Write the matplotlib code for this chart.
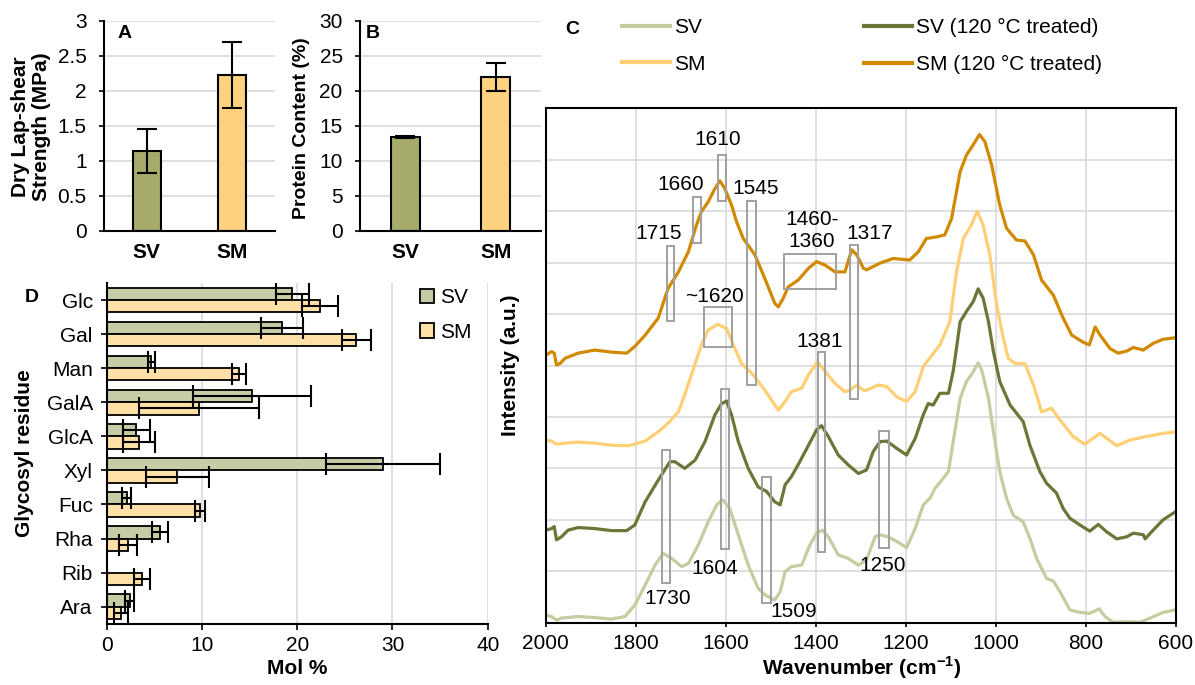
import numpy as np
import matplotlib
matplotlib.use('Agg')
import matplotlib.pyplot as plt
from matplotlib.patches import Rectangle
from matplotlib.lines import Line2D

plt.rcParams['font.family'] = ['Liberation Sans', 'DejaVu Sans']
plt.rcParams['mathtext.fontset'] = 'custom'
plt.rcParams['mathtext.rm'] = 'Liberation Sans'
plt.rcParams['mathtext.bf'] = 'Liberation Sans:bold'

# ---- panel A / B data
samples = ['SV', 'SM']
lap_shear = [1.14, 2.22]
lap_shear_err = [0.32, 0.47]
protein = [13.4, 22.0]
protein_err = [0.2, 2.0]

# ---- panel D data (mol %)
residues = ['Glc', 'Gal', 'Man', 'GalA', 'GlcA', 'Xyl', 'Fuc', 'Rha', 'Rib', 'Ara']
sv_mol = [19.5, 18.4, 4.7, 15.3, 3.1, 29.0, 2.1, 5.6, np.nan, 2.4]
sv_mol_err = [1.7, 2.2, 0.4, 6.2, 1.4, 6.0, 0.5, 0.85, np.nan, 0.45]
sm_mol = [22.4, 26.2, 13.9, 9.7, 3.4, 7.4, 9.8, 2.2, 3.7, 1.5]
sm_mol_err = [1.9, 1.5, 0.7, 6.3, 1.7, 3.3, 0.5, 0.95, 0.8, 0.75]

# ---- panel C data (FTIR, offset intensities)
sv_wn = [2000, 1987, 1976, 1965, 1928, 1891, 1854, 1824, 1802, 1779, 1757, 1739, 1720,
         1698, 1683, 1661, 1639, 1620, 1607, 1591, 1572, 1550, 1528, 1513, 1491, 1479,
         1468, 1454, 1431, 1413, 1398, 1385, 1372, 1350, 1328, 1305, 1287, 1268, 1257,
         1239, 1220, 1198, 1179, 1161, 1146, 1135, 1120, 1105, 1091, 1079, 1065, 1054,
         1039, 1031, 1016, 1005, 991, 976, 961, 939, 924, 909, 887, 872, 857, 835, 813,
         791, 770, 757, 739, 709, 679, 657, 628, 600]
sv_int = [0.15, 0.12, 0.05, 0.09, 0.12, 0.10, 0.07, 0.12, 0.34, 0.73, 1.12, 1.35, 1.25,
          1.09, 1.15, 1.51, 1.96, 2.29, 2.39, 2.22, 1.71, 1.12, 0.67, 0.54, 0.44, 0.60,
          0.99, 1.09, 1.12, 1.51, 1.74, 1.80, 1.67, 1.32, 1.25, 1.12, 1.22, 1.67, 1.71,
          1.67, 1.58, 1.46, 1.83, 2.29, 2.42, 2.61, 2.77, 2.94, 3.71, 4.36, 4.69, 4.82,
          5.05, 4.91, 4.36, 3.71, 2.94, 2.42, 2.09, 1.96, 1.64, 1.25, 0.86, 0.81, 0.60,
          0.25, 0.20, 0.18, 0.27, 0.12, 0.01, 0.02, 0.01, 0.09, 0.20, 0.25]

sv120_wn = [2000, 1987, 1981, 1976, 1965, 1950, 1928, 1891, 1854, 1820, 1802, 1779, 1750,
            1724, 1713, 1691, 1668, 1646, 1624, 1609, 1598, 1587, 1572, 1550, 1528, 1509,
            1491, 1479, 1468, 1454, 1439, 1416, 1398, 1387, 1372, 1350, 1328, 1305, 1287,
            1272, 1257, 1242, 1220, 1198, 1179, 1161, 1150, 1139, 1124, 1105, 1094, 1079,
            1065, 1050, 1039, 1028, 1016, 1005, 991, 968, 939, 924, 902, 887, 865, 850,
            835, 813, 791, 772, 754, 731, 709, 694, 672, 668, 650, 628, 600]
sv120_int = [1.80, 1.83, 1.87, 1.61, 1.67, 1.80, 1.85, 1.83, 1.79, 1.79, 1.90, 2.35, 2.77,
             3.13, 3.13, 3.00, 3.16, 3.52, 4.04, 4.26, 4.31, 4.04, 3.52, 3.00, 2.64, 2.55,
             2.35, 2.29, 2.68, 2.84, 3.07, 3.45, 3.75, 3.83, 3.62, 3.26, 3.07, 2.90, 2.97,
             3.33, 3.52, 3.53, 3.39, 3.26, 3.58, 4.04, 4.26, 4.23, 4.46, 4.46, 4.91, 5.85,
             6.05, 6.24, 6.49, 6.31, 5.85, 5.27, 4.69, 4.23, 3.91, 3.45, 2.94, 2.71, 2.52,
             2.22, 2.03, 1.90, 1.78, 1.91, 1.77, 1.63, 1.67, 1.74, 1.71, 1.63, 1.80, 2.00,
             2.16]

sm_wn = [2000, 1987, 1976, 1957, 1928, 1891, 1854, 1816, 1779, 1750, 1728, 1705, 1691,
         1676, 1654, 1639, 1618, 1598, 1583, 1565, 1542, 1513, 1483, 1468, 1454, 1431,
         1416, 1396, 1379, 1357, 1335, 1324, 1309, 1294, 1287, 1261, 1242, 1220, 1198,
         1179, 1161, 1124, 1102, 1087, 1072, 1054, 1041, 1028, 1013, 998, 983, 972, 957,
         935, 916, 898, 876, 857, 828, 802, 768, 731, 702, 665, 628, 600]
sm_int = [3.55, 3.53, 3.47, 3.49, 3.51, 3.49, 3.45, 3.44, 3.53, 3.71, 3.88, 4.10, 4.43,
          4.82, 5.40, 5.69, 5.80, 5.72, 5.40, 5.04, 4.85, 4.52, 4.13, 4.30, 4.49, 4.56,
          4.82, 5.07, 4.88, 4.65, 4.49, 4.52, 4.62, 4.52, 4.52, 4.62, 4.59, 4.39, 4.30,
          4.49, 4.98, 5.40, 5.85, 6.82, 7.47, 7.73, 8.00, 7.73, 7.15, 6.18, 5.53, 5.14,
          5.04, 5.04, 4.62, 4.10, 4.17, 3.94, 3.62, 3.47, 3.68, 3.44, 3.55, 3.62, 3.68,
          3.71]

sm120_wn = [2000, 1987, 1981, 1976, 1968, 1957, 1928, 1891, 1854, 1820, 1802, 1779, 1750,
            1728, 1705, 1683, 1665, 1654, 1639, 1624, 1613, 1602, 1587, 1576, 1561, 1535,
            1513, 1491, 1483, 1472, 1461, 1439, 1416, 1398, 1379, 1357, 1335, 1320, 1309,
            1294, 1287, 1257, 1228, 1191, 1172, 1154, 1131, 1113, 1098, 1079, 1065, 1050,
            1036, 1024, 1009, 991, 976, 954, 935, 916, 898, 872, 850, 831, 805, 792, 779,
            768, 746, 728, 709, 694, 672, 650, 628, 600]
sm120_int = [5.20, 5.27, 5.24, 5.01, 5.04, 5.14, 5.24, 5.30, 5.26, 5.24, 5.37, 5.59, 5.92,
             6.50, 6.82, 7.21, 7.73, 7.99, 8.18, 8.44, 8.59, 8.44, 8.12, 7.80, 7.47, 7.15,
             6.69, 6.21, 6.14, 6.31, 6.53, 6.66, 6.89, 7.02, 6.95, 6.82, 6.82, 7.25, 7.15,
             6.89, 6.86, 6.99, 7.08, 7.05, 7.21, 7.47, 7.50, 7.54, 7.86, 8.77, 9.09, 9.29,
             9.49, 9.35, 8.90, 8.12, 7.67, 7.44, 7.42, 7.15, 6.66, 6.37, 5.92, 5.59, 5.45,
             5.40, 5.75, 5.59, 5.33, 5.24, 5.28, 5.35, 5.30, 5.43, 5.51, 5.54]

# marked bands: (wavenumber high, wavenumber low, intensity low, intensity high)
bands = [(1731, 1714, 5.86, 7.32), (1673, 1656, 7.39, 8.28), (1618, 1600, 8.20, 9.09),
         (1552, 1533, 4.62, 8.20), (1470, 1354, 6.49, 7.17), (1324, 1305, 4.35, 7.34),
         (1648, 1585, 5.35, 6.14), (1396, 1379, 1.38, 5.27), (1611, 1592, 1.43, 4.54),
         (1742, 1723, 0.78, 3.36), (1519, 1500, 0.38, 2.83), (1259, 1237, 1.45, 3.73)]
band_labels = [('1715', 1750, 7.57), ('1660', 1699, 8.52), ('1610', 1618, 9.40),
               ('1545', 1533, 8.44), ('1460-\n1360', 1409, 7.63), ('1317', 1280, 7.57),
               ('~1620', 1624, 6.35), ('1381', 1392, 5.46), ('1604', 1625, 1.06),
               ('1730', 1729, 0.47), ('1509', 1448, 0.21), ('1250', 1252, 1.12)]

W, H = 1195, 685
fig = plt.figure(figsize=(W / 100, H / 100), dpi=100)

def rect(x0, y0, x1, y1):
    return [x0 / W, 1 - y1 / H, (x1 - x0) / W, (y1 - y0) / H]

grid_c = '#D9D9D9'
bar_sv, bar_sm = '#A6AA6A', '#FFD27F'

def style_bar_axes(ax):
    for s in ['top', 'right']:
        ax.spines[s].set_visible(False)
    for s in ['left', 'bottom']:
        ax.spines[s].set_linewidth(1.5)
    ax.set_axisbelow(True)

# ---- A
axA = fig.add_axes(rect(104, 20.7, 275, 230.7))
x = np.arange(len(samples))
axA.bar(x, lap_shear, width=0.33, color=[bar_sv, bar_sm], edgecolor='black', linewidth=1.5)
axA.errorbar(x, lap_shear, yerr=lap_shear_err, fmt='none', ecolor='black',
             elinewidth=1.5, capsize=7, capthick=1.5)
axA.set_xlim(-0.5, 1.5)
axA.set_ylim(0, 3)
axA.set_yticks(np.arange(0, 3.01, 0.5))
axA.set_yticklabels(['0', '0.5', '1', '1.5', '2', '2.5', '3'])
axA.yaxis.grid(True, color=grid_c, linewidth=1.2)
style_bar_axes(axA)
axA.set_xticks(x)
axA.set_xticklabels(samples, fontweight='bold', fontsize=15)
axA.tick_params(axis='x', length=0, pad=9)
axA.tick_params(axis='y', labelsize=15, length=3.5, width=1.2, pad=9)

# ---- B
axB = fig.add_axes(rect(360, 20.7, 541, 230.7))
axB.bar(x, protein, width=0.32, color=[bar_sv, bar_sm], edgecolor='black', linewidth=1.5)
axB.errorbar(x, protein, yerr=protein_err, fmt='none', ecolor='black',
             elinewidth=1.5, capsize=7, capthick=1.5)
axB.set_xlim(-0.5, 1.5)
axB.set_ylim(0, 30)
axB.set_yticks(np.arange(0, 31, 5))
axB.yaxis.grid(True, color=grid_c, linewidth=1.2)
style_bar_axes(axB)
axB.set_xticks(x)
axB.set_xticklabels(samples, fontweight='bold', fontsize=15)
axB.tick_params(axis='x', length=0, pad=9)
axB.tick_params(axis='y', labelsize=15, length=3.5, width=1.2, pad=9)

# ---- D
axD = fig.add_axes(rect(106.7, 283, 487.7, 623.7))
yy = np.arange(len(residues))
axD.barh(yy - 0.18, sv_mol, height=0.36, color='#C8CCA6', edgecolor='black',
         linewidth=1.3, label='SV')
axD.barh(yy + 0.18, sm_mol, height=0.36, color='#FFE0A6', edgecolor='black',
         linewidth=1.3, label='SM')
axD.errorbar(sv_mol, yy - 0.18, xerr=sv_mol_err, fmt='none', ecolor='black',
             elinewidth=1.5, capsize=8, capthick=1.5)
axD.errorbar(sm_mol, yy + 0.18, xerr=sm_mol_err, fmt='none', ecolor='black',
             elinewidth=1.5, capsize=8, capthick=1.5)
axD.set_xlim(0, 40)
axD.set_ylim(len(residues) - 0.5, -0.5)
axD.set_xticks([0, 10, 20, 30, 40])
axD.set_yticks(yy)
axD.set_yticklabels(residues)
axD.xaxis.grid(True, color=grid_c, linewidth=1.2)
style_bar_axes(axD)
axD.tick_params(axis='y', labelsize=15, length=4, width=1.2, pad=6)
axD.tick_params(axis='x', labelsize=15, length=4, width=1.2, pad=5)
legD = axD.legend(loc='upper left', bbox_to_anchor=(0.822, 0.985), frameon=False,
                  fontsize=15, handlelength=0.7, handleheight=0.7, handletextpad=0.25,
                  labelspacing=0.75, borderpad=0, borderaxespad=0)

# ---- C
axC = fig.add_axes(rect(545.7, 108.3, 1175.7, 622.7))
c_sv, c_sv120, c_sm, c_sm120 = '#C5CC9F', '#6A7737', '#FFCF75', '#D18A00'
axC.plot(sv_wn, sv_int, color=c_sv, lw=2.3)
axC.plot(sm_wn, sm_int, color=c_sm, lw=2.3)
axC.plot(sv120_wn, sv120_int, color=c_sv120, lw=2.3)
axC.plot(sm120_wn, sm120_int, color=c_sm120, lw=2.3)
for hi, lo, i0, i1 in bands:
    axC.add_patch(Rectangle((lo, i0), hi - lo, i1 - i0, fill=False,
                            edgecolor='#A0A0A0', linewidth=1.4, zorder=4))
for txt, wn, iv in band_labels:
    axC.text(wn, iv, txt, ha='center', va='center', fontsize=15, zorder=5)
axC.set_xlim(2000, 600)
axC.set_ylim(0, 10)
axC.set_xticks(np.arange(2000, 599, -200))
axC.set_yticks(np.arange(0, 11, 1))
axC.set_yticklabels([])
axC.grid(True, color=grid_c, linewidth=1.2)
axC.set_axisbelow(True)
for s in axC.spines.values():
    s.set_linewidth(1.5)
axC.tick_params(axis='y', length=0)
axC.tick_params(axis='x', labelsize=15, length=3, width=1.2, pad=5)

handles = [Line2D([], [], color=c_sv, lw=3), Line2D([], [], color=c_sm, lw=3),
           Line2D([], [], color=c_sv120, lw=3), Line2D([], [], color=c_sm120, lw=3)]
labels = ['SV', 'SM', 'SV (120 °C treated)', 'SM (120 °C treated)']
fig.legend(handles, labels, loc='upper left', bbox_to_anchor=(622 / W, 1 - 18 / H),
           ncol=2, frameon=False, fontsize=15, handlelength=2.3, handletextpad=0.2,
           columnspacing=7.6, labelspacing=0.85, borderpad=0, borderaxespad=0)

# ---- panel letters and axis titles
for letter, px, py in [('A', 125, 33), ('B', 373, 33), ('C', 572, 30), ('D', 32, 297)]:
    fig.text(px / W, 1 - py / H, letter, fontsize=14, fontweight='bold',
             ha='center', va='center')
fig.text(31 / W, 1 - 127 / H, 'Dry Lap-shear\nStrength (MPa)', rotation=90,
         ha='center', va='center', fontsize=15, fontweight='bold', linespacing=1.15)
fig.text(302 / W, 1 - 128 / H, 'Protein Content (%)', rotation=90,
         ha='center', va='center', fontsize=14, fontweight='bold')
fig.text(25 / W, 1 - 453 / H, 'Glycosyl residue', rotation=90,
         ha='center', va='center', fontsize=15, fontweight='bold')
fig.text(297 / W, 1 - 668 / H, 'Mol %', ha='center', va='center',
         fontsize=15, fontweight='bold')
fig.text(510 / W, 1 - 365 / H, 'Intensity (a.u.)', rotation=90,
         ha='center', va='center', fontsize=15, fontweight='bold')
fig.text(862 / W, 1 - 668 / H, r'Wavenumber (cm$^{\mathbf{-1}}$)', ha='center',
         va='center', fontsize=15, fontweight='bold')

fig.savefig('out.png', dpi=100)
